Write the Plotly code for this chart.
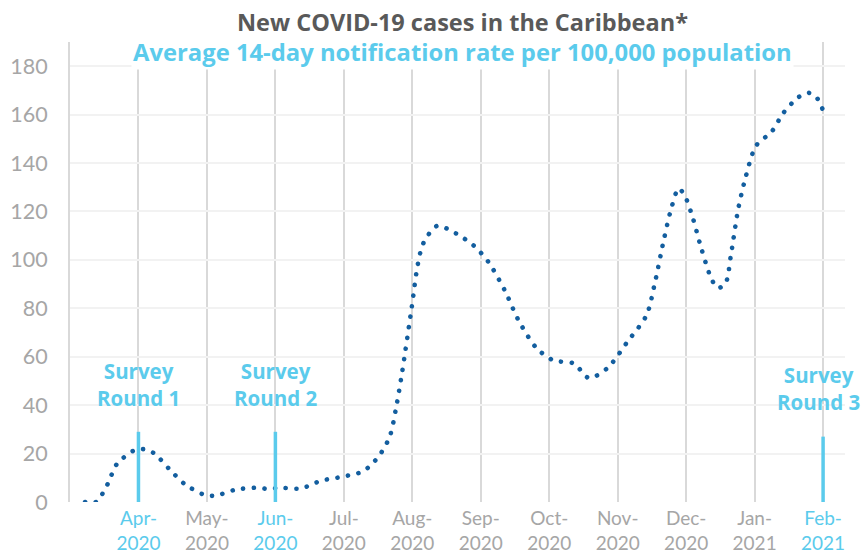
import plotly.graph_objects as go

# x positions in months since Apr-2020 (0 = Apr-2020, 10 = Feb-2021)
month_pos = [-0.78, -0.62, -0.45, -0.32, -0.07, 0.08, 0.23, 0.45, 0.68, 0.96, 1.12, 1.42,
             1.74, 1.89, 2.06, 2.37, 2.67, 2.99, 3.29, 3.51, 3.67, 3.77, 3.85, 3.99, 4.08,
             4.16, 4.36, 4.64, 4.90, 5.11, 5.35, 5.55, 5.81, 6.06, 6.36, 6.58, 6.85, 7.14,
             7.42, 7.54, 7.67, 7.78, 7.89, 7.98, 8.09, 8.22, 8.37, 8.46, 8.57, 8.66, 8.76,
             8.87, 9.02, 9.25, 9.42, 9.64, 9.79, 9.91, 10.04]
rate = [0, 0, 7.4, 15.5, 21.2, 21.8, 20.1, 13.6, 7.3, 3.0, 2.6, 5.1,
        5.9, 5.4, 5.9, 5.6, 8.8, 10.5, 12.8, 18.9, 27, 40, 53.4, 80.2, 98.1,
        106.8, 114, 110.9, 105.8, 99.2, 87.4, 75.1, 63.7, 58.5, 57.2, 51.2, 55.3, 66.1,
        77.1, 90.1, 107.8, 121, 129.5, 126.5, 118, 104.9, 92.1, 88.4, 90, 103.2, 121,
        134.3, 147.1, 153, 160.7, 167.2, 169, 166.9, 158.7]

month_labels = ["Apr-", "May-", "Jun-", "Jul-", "Aug-", "Sep-", "Oct-", "Nov-", "Dec-", "Jan-", "Feb-"]
year_labels = ["2020", "2020", "2020", "2020", "2020", "2020", "2020", "2020", "2020", "2021", "2021"]
highlight = [True, False, True, False, False, False, False, False, False, False, True]

survey_pos = [0, 2, 10]
survey_top = [29, 29, 27]
survey_names = ["Survey<br>Round 1", "Survey<br>Round 2", "Survey<br>Round 3"]
survey_label_x = [0, 2, 9.93]
survey_label_y = [48.7, 48.7, 46.8]

y_ticks = [0, 20, 40, 60, 80, 100, 120, 140, 160, 180]

CYAN = "#5BCBEC"
GRAY = "#A6A6A6"
BLUE = "#135E9F"
FONT = "Lato"
BOLD_FONT = "Open Sans"

ticktext = []
for m, yv, h in zip(month_labels, year_labels, highlight):
    c = CYAN if h else GRAY
    ticktext.append(f'<span style="color:{c}">{m}</span><br><span style="color:{c}">{yv}</span>')

fig = go.Figure()
fig.add_trace(go.Scatter(
    x=month_pos, y=rate, mode="lines",
    line=dict(color=BLUE, width=4.6, dash="0.1px,10.6px", shape="spline", smoothing=0.8),
    hoverinfo="skip", showlegend=False,
))

shapes = []
for xp, top in zip(survey_pos, survey_top):
    shapes.append(dict(type="line", xref="x", yref="y", x0=xp, x1=xp, y0=-1 if xp == 10 else 0, y1=top,
                       line=dict(color=CYAN, width=3.5), layer="above"))

annotations = []
for xp, yp, name in zip(survey_label_x, survey_label_y, survey_names):
    annotations.append(dict(x=xp, y=yp, xref="x", yref="y", text=f"<b>{name}</b>", showarrow=False,
                            font=dict(family=BOLD_FONT, size=20.5, color=CYAN), yanchor="middle",
                            xanchor="center", align="center"))

annotations.append(dict(x=0.507, y=1.043, xref="paper", yref="paper",
                        text="<b>New COVID-19 cases in the Caribbean*</b>", showarrow=False,
                        font=dict(family=BOLD_FONT, size=23.5, color="#595959"), yanchor="middle",
                        xanchor="center", bgcolor="white"))
annotations.append(dict(x=0.507, y=0.978, xref="paper", yref="paper",
                        text="<b>Average 14-day notification rate per 100,000 population</b>", showarrow=False,
                        font=dict(family=BOLD_FONT, size=23.8, color=CYAN), yanchor="middle",
                        xanchor="center", bgcolor="white", borderpad=1))

fig.update_layout(
    width=862, height=558,
    margin=dict(l=70, r=17, t=42, b=56),
    paper_bgcolor="white", plot_bgcolor="white",
    shapes=shapes, annotations=annotations,
    xaxis=dict(range=[-1, 10.32], tickvals=list(range(len(month_labels))), ticktext=ticktext,
               showgrid=True, gridcolor="#D9D9D9", gridwidth=2, zeroline=False, showline=False,
               tickfont=dict(family=FONT, size=19, color=GRAY), ticks="", ticklabelstandoff=3,
               automargin=False, fixedrange=True),
    yaxis=dict(range=[0, 190], tickvals=y_ticks, showgrid=True, gridcolor="#F2F2F2", gridwidth=1.5,
               zeroline=False, showline=True, linecolor="#D9D9D9", linewidth=2,
               tickfont=dict(family=FONT, size=21.5, color=GRAY), ticks="", ticklabelstandoff=16,
               automargin=False, fixedrange=True),
    font=dict(family=FONT),
)

round_dots = """
var s = document.createElement('style');
s.textContent = '.scatterlayer .js-line { stroke-linecap: round !important; }';
document.head.appendChild(s);
"""

fig.write_html("out.html", post_script=round_dots)
